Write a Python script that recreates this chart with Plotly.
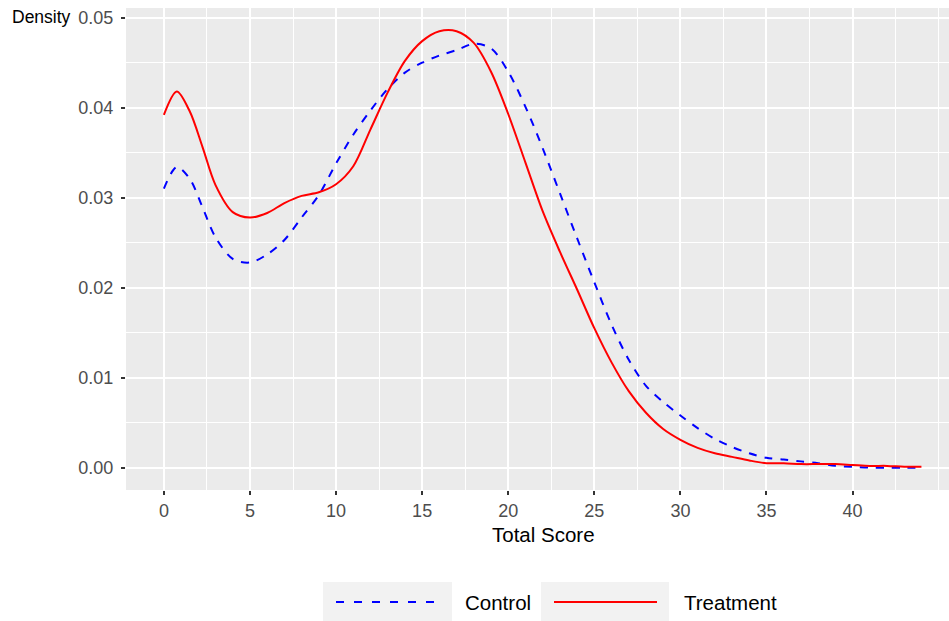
import plotly.graph_objects as go

# ---- data ----
score = [0, 0.75, 1.5, 2.25, 3, 4, 5, 6, 7, 8, 9,
         10, 11, 12, 13, 14, 15, 16, 17, 18, 19,
         20, 21, 22, 23, 24, 25, 26, 27, 28, 29,
         30, 31, 32, 33, 34, 35, 36, 37, 38, 39,
         40, 41, 42, 43, 44]
treatment = [0.0392, 0.0418, 0.0396, 0.0356, 0.0314, 0.0284, 0.0278, 0.0283, 0.0294, 0.0302, 0.0306,
             0.0315, 0.0335, 0.0376, 0.0417, 0.0452, 0.0474, 0.0485, 0.0485, 0.0472, 0.0440,
             0.0393, 0.0339, 0.0285, 0.0240, 0.0198, 0.0155, 0.0117, 0.0085, 0.0061, 0.0043,
             0.0031, 0.0022, 0.0016, 0.0012, 0.0008, 0.0005, 0.0005, 0.0004, 0.0004, 0.0004,
             0.0003, 0.0002, 0.0002, 0.0001, 0.0001]
control = [0.0310, 0.0334, 0.0321, 0.0289, 0.0256, 0.0232, 0.0228, 0.0237, 0.0253, 0.0278, 0.0303,
           0.0338, 0.0370, 0.0397, 0.0421, 0.0439, 0.0450, 0.0458, 0.0464, 0.0471, 0.0466,
           0.0440, 0.0401, 0.0355, 0.0305, 0.0255, 0.0206, 0.0159, 0.0120, 0.0091, 0.0073,
           0.0058, 0.0044, 0.0032, 0.0023, 0.0016, 0.0011, 0.0009, 0.0007, 0.0005, 0.0002,
           0.0001, 0.0000, 0.0000, 0.0000, 0.0000]
x_ticks = [0, 5, 10, 15, 20, 25, 30, 35, 40]
y_ticks = [0.00, 0.01, 0.02, 0.03, 0.04, 0.05]
series_names = ["Control", "Treatment"]

W, H = 949, 621
ML, MR, MT, MB = 126, 0, 8, 131
PW, PH = W - ML - MR, H - MT - MB

def px(x):
    return (x - ML) / PW

def py(y):
    return (H - MB - y) / PH

fig = go.Figure()
fig.add_trace(go.Scatter(x=score, y=control, mode="lines", name=series_names[0],
                         line=dict(color="#0000FF", width=2, dash="8px,8px", shape="spline", smoothing=0.9),
                         showlegend=False))
fig.add_trace(go.Scatter(x=score, y=treatment, mode="lines", name=series_names[1],
                         line=dict(color="#FF0000", width=2, shape="spline", smoothing=0.9),
                         showlegend=False))

font = "Liberation Sans, Arial, sans-serif"
fig.update_layout(
    width=W, height=H,
    margin=dict(l=ML, r=MR, t=MT, b=MB),
    paper_bgcolor="white", plot_bgcolor="#EBEBEB",
    font=dict(family=font, size=18, color="#4D4D4D"),
    xaxis=dict(range=[-2.2, 45.6], tickvals=x_ticks, ticks="outside", ticklen=4, tickwidth=1.5,
               tickcolor="#333333", showgrid=True, gridcolor="white", gridwidth=2, zeroline=False,
               showline=False, tickfont=dict(size=18, color="#4D4D4D"),
               minor=dict(dtick=2.5, tick0=0, showgrid=True, gridcolor="white", gridwidth=1, ticks="")),
    yaxis=dict(range=[-0.00248, 0.05108], tickvals=y_ticks, tickformat=".2f", ticks="outside",
               ticklen=4, tickwidth=1.5, tickcolor="#333333", showgrid=True, gridcolor="white",
               gridwidth=2, zeroline=False, showline=False, tickfont=dict(size=18, color="#4D4D4D"),
               ticklabelstandoff=4,
               minor=dict(dtick=0.005, tick0=0, showgrid=True, gridcolor="white", gridwidth=1, ticks="")),
)

annotations = [
    dict(text="Density", x=px(10), y=py(17), xref="paper", yref="paper", xanchor="left",
         yanchor="middle", showarrow=False, font=dict(family=font, size=17.5, color="black")),
    dict(text="Total Score", x=px(543), y=py(534), xref="paper", yref="paper", xanchor="center",
         yanchor="middle", showarrow=False, font=dict(family=font, size=20.5, color="black")),
    dict(text=series_names[0], x=px(463), y=py(602), xref="paper", yref="paper", xanchor="left",
         yanchor="middle", showarrow=False, font=dict(family=font, size=20.5, color="black")),
    dict(text=series_names[1], x=px(682), y=py(602), xref="paper", yref="paper", xanchor="left",
         yanchor="middle", showarrow=False, font=dict(family=font, size=20.5, color="black")),
]
shapes = [
    dict(type="rect", xref="paper", yref="paper", x0=px(323), x1=px(452), y0=py(621), y1=py(582),
         fillcolor="#F2F2F2", line=dict(width=0), layer="below"),
    dict(type="rect", xref="paper", yref="paper", x0=px(541), x1=px(669), y0=py(621), y1=py(582),
         fillcolor="#F2F2F2", line=dict(width=0), layer="below"),
    dict(type="line", xref="paper", yref="paper", x0=px(336), x1=px(437), y0=py(602), y1=py(602),
         line=dict(color="#0000FF", width=2, dash="8px,10px")),
    dict(type="line", xref="paper", yref="paper", x0=px(554), x1=px(657), y0=py(602), y1=py(602),
         line=dict(color="#FF0000", width=2)),
]
fig.update_layout(annotations=annotations, shapes=shapes)

fig.write_html("out.html", config={"displayModeBar": False},
               post_script="document.body.style.margin='0';")
